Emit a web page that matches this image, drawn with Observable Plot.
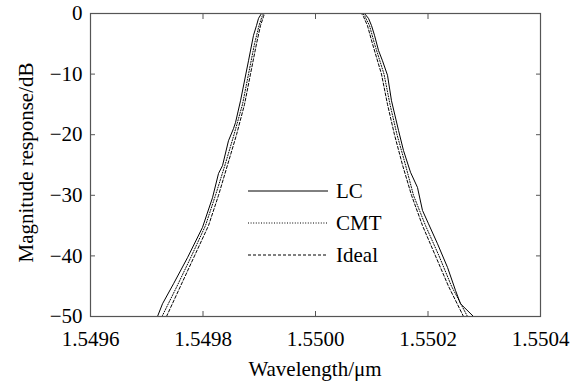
<!DOCTYPE html>
<html>
<head>
<meta charset="utf-8">
<script src="https://cdn.jsdelivr.net/npm/d3@7"></script>
<script src="https://cdn.jsdelivr.net/npm/@observablehq/plot@0.6"></script>
<style>
  html, body { margin: 0; padding: 0; background: #fff; }
  #chart { width: 577px; height: 382px; }
  #chart svg text { font-family: "Liberation Serif", serif !important; font-size: 21px !important; }
</style>
</head>
<body>
<div id="chart"></div>
<script>
// ---- data ----
const wavelengthTicks = [1.5496, 1.5498, 1.5500, 1.5502, 1.5504];
const magnitudeTicks = [0, -10, -20, -30, -40, -50];
const seriesNames = ["LC", "CMT", "Ideal"];

// LC (solid) — left edge, bottom to top
const lcLeftMagnitude = [-50, -47.9, -44.6, -40.3, -35.3, -30.4, -26.4, -25.1, -21, -19, -18, -14.4, -7.8, -3.6, -2, -0.8, 0];
const lcLeftWavelength = [1.5497191, 1.5497280, 1.5497476, 1.5497724, 1.5497991, 1.5498169, 1.5498276, 1.5498347, 1.5498453, 1.5498542, 1.5498578, 1.5498667, 1.5498809, 1.5498898, 1.5498951, 1.5498987, 1.5499040];
// LC — right edge, top to bottom
const lcRightMagnitude = [0, -0.8, -2, -3.6, -6.1, -7.8, -10.2, -14.4, -19.3, -22.6, -26.2, -28.7, -32.5, -34.7, -38, -41.9, -45.7, -47.9, -50];
const lcRightWavelength = [1.5500871, 1.5500942, 1.5500996, 1.5501049, 1.5501120, 1.5501191, 1.5501280, 1.5501351, 1.5501476, 1.5501564, 1.5501689, 1.5501813, 1.5501902, 1.5502009, 1.5502169, 1.5502347, 1.5502489, 1.5502578, 1.5502809];

// CMT and Ideal share magnitude levels (left edge bottom->top; right edge uses them top->bottom)
const edgeMagnitude = [-50, -45, -40, -35, -30, -25, -20, -15, -10, -5, -2, -0.5, 0];
const cmtLeftWavelength = [1.5497271, 1.5497538, 1.5497796, 1.5498044, 1.5498222, 1.5498391, 1.5498551, 1.5498702, 1.5498809, 1.5498916, 1.5498996, 1.5499049, 1.5499076];
const cmtRightWavelength = [1.5500844, 1.5500880, 1.5500960, 1.5501049, 1.5501218, 1.5501324, 1.5501449, 1.5501600, 1.5501742, 1.5501956, 1.5502196, 1.5502418, 1.5502702];
const idealLeftWavelength = [1.5497351, 1.5497600, 1.5497849, 1.5498098, 1.5498276, 1.5498436, 1.5498596, 1.5498738, 1.5498844, 1.5498951, 1.5499022, 1.5499076, 1.5499093];
const idealRightWavelength = [1.5500818, 1.5500853, 1.5500924, 1.5501013, 1.5501173, 1.5501280, 1.5501404, 1.5501547, 1.5501707, 1.5501902, 1.5502133, 1.5502364, 1.5502631];

// ---- build tables ----
function rows(series, lw, lm, rw, rm) {
  const out = [];
  lw.forEach((w, i) => out.push({series, wavelength: w, magnitude: lm[i]}));
  rw.forEach((w, i) => out.push({series, wavelength: w, magnitude: rm[i]}));
  return out;
}
const levelsDown = edgeMagnitude.slice().reverse();
const lcRows = rows("LC", lcLeftWavelength, lcLeftMagnitude, lcRightWavelength, lcRightMagnitude);
const cmtRows = rows("CMT", cmtLeftWavelength, edgeMagnitude, cmtRightWavelength, levelsDown);
const idealRows = rows("Ideal", idealLeftWavelength, edgeMagnitude, idealRightWavelength, levelsDown);

const FONT = "Liberation Serif, serif";
const FRAME = "#555";
const dashes = {LC: null, CMT: "1,1.6", Ideal: "3,2"};

const W = 577, H = 382;
const mL = 90, mR = 37, mT = 13, mB = 66;

const chart = Plot.plot({
  width: W, height: H,
  marginLeft: mL, marginRight: mR, marginTop: mT, marginBottom: mB,
  style: {fontFamily: FONT, fontSize: "21px", color: "#000", background: "#fff"},
  x: {domain: [1.5496, 1.5504]},
  y: {domain: [-50, 0]},
  marks: [
    Plot.line(lcRows, {x: "wavelength", y: "magnitude", stroke: "#000", strokeWidth: 1}),
    Plot.line(cmtRows, {x: "wavelength", y: "magnitude", stroke: "#000", strokeWidth: 1, strokeDasharray: dashes.CMT}),
    Plot.line(idealRows, {x: "wavelength", y: "magnitude", stroke: "#000", strokeWidth: 1, strokeDasharray: dashes.Ideal}),
    Plot.frame({stroke: FRAME, strokeWidth: 1.2}),
    // tick labels
    Plot.axisX(wavelengthTicks, {anchor: "bottom", tickSize: 0, tickPadding: 15, tickFormat: d => d.toFixed(4), label: null, fill: "#000"}),
    Plot.axisY(magnitudeTicks, {anchor: "left", tickSize: 0, tickPadding: 8, label: null, fill: "#000"}),
    // inward ticks on all four sides
    Plot.axisX(wavelengthTicks, {anchor: "bottom", tickSize: -5, tickFormat: () => "", label: null, stroke: FRAME}),
    Plot.axisX(wavelengthTicks, {anchor: "top", tickSize: -5, tickFormat: () => "", label: null, stroke: FRAME}),
    Plot.axisY(magnitudeTicks, {anchor: "left", tickSize: -5, tickFormat: () => "", label: null, stroke: FRAME}),
    Plot.axisY(magnitudeTicks, {anchor: "right", tickSize: -5, tickFormat: () => "", label: null, stroke: FRAME})
  ]
});

document.getElementById("chart").appendChild(chart);

// axis titles and legend
const svg = d3.select(chart);
svg.append("text")
  .attr("x", mL + (W - mL - mR) / 2).attr("y", 376)
  .attr("text-anchor", "middle")
  .attr("font-family", FONT).attr("font-size", 21).attr("fill", "#000")
  .text("Wavelength/μm");
svg.append("text")
  .attr("transform", `translate(33,${mT + (H - mT - mB) / 2 - 2}) rotate(-90)`)
  .attr("text-anchor", "middle")
  .attr("font-family", FONT).attr("font-size", 21).attr("fill", "#000")
  .text("Magnitude response/dB");

const legendY = [191, 223, 255];
const lg = svg.append("g");
seriesNames.forEach((name, i) => {
  lg.append("line")
    .attr("x1", 248).attr("x2", 328).attr("y1", legendY[i]).attr("y2", legendY[i])
    .attr("stroke", "#000").attr("stroke-width", 1)
    .attr("stroke-dasharray", dashes[name]);
  lg.append("text")
    .attr("x", 336).attr("y", legendY[i]).attr("dy", "0.34em")
    .attr("text-anchor", "start")
    .attr("font-family", FONT).attr("font-size", 21).attr("fill", "#000")
    .text(name);
});
</script>
</body>
</html>
